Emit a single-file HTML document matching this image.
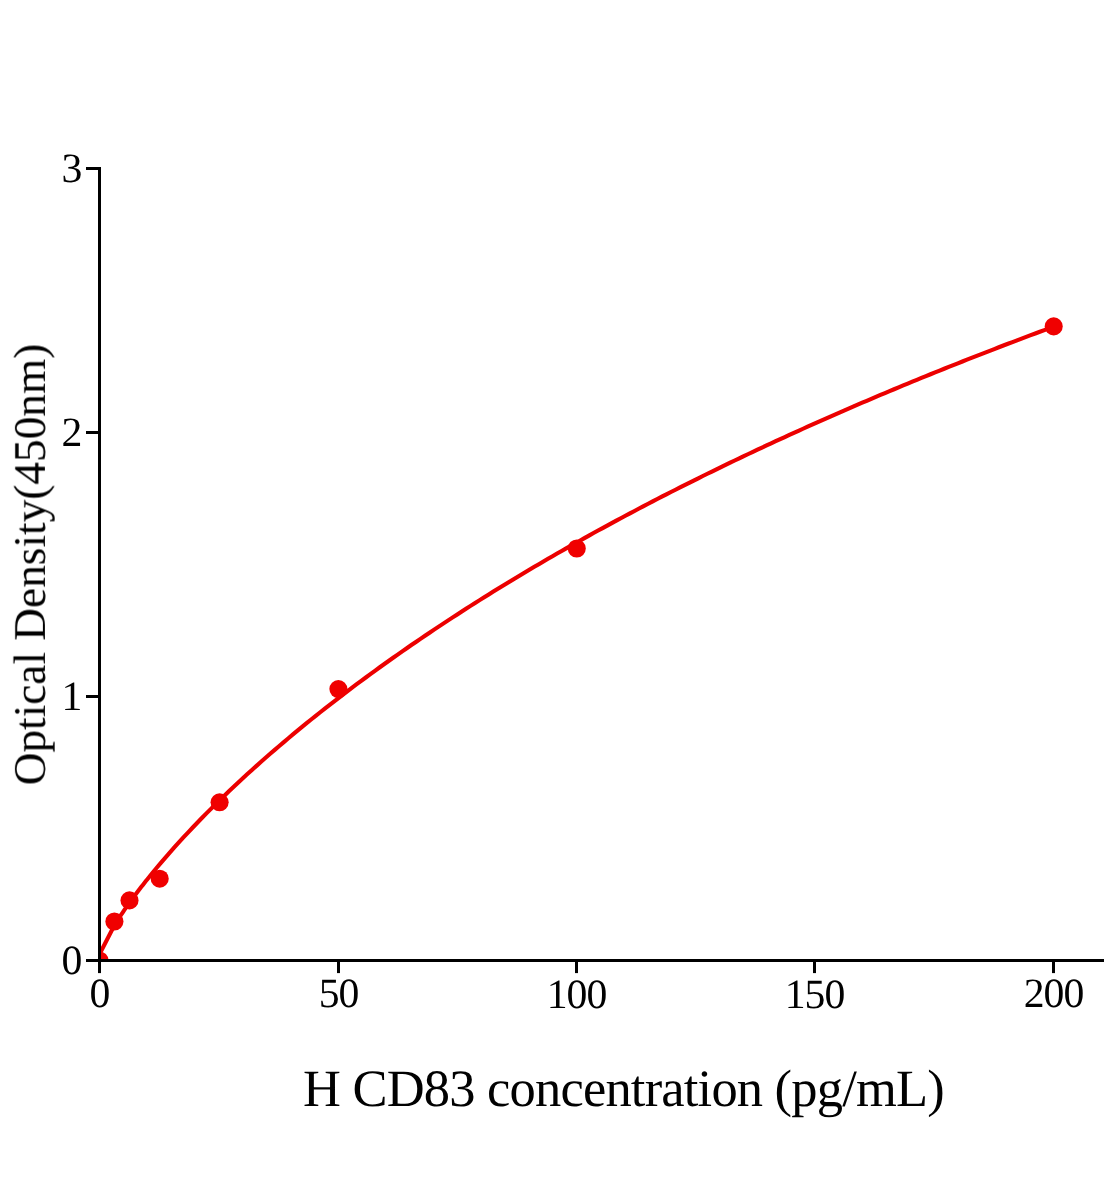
<!DOCTYPE html>
<html><head><meta charset="utf-8"><title>H CD83 standard curve</title>
<style>
html,body{margin:0;padding:0;background:#fff;}
body{width:1104px;height:1200px;overflow:hidden;font-family:"Liberation Serif",serif;}
svg{display:block;}
svg text{font-family:"Liberation Serif",serif;fill:#000;text-rendering:geometricPrecision;}
</style></head><body>
<svg width="1104" height="1200" viewBox="0 0 1104 1200">
<rect width="1104" height="1200" fill="#fff"/>
<defs><clipPath id="plot"><rect x="99.5" y="0" width="1104" height="960.5"/></clipPath></defs>
<g clip-path="url(#plot)">
<path d="M99.50,954.30 L114.41,925.22 L115.54,923.41 L116.67,921.62 L117.80,919.86 L118.93,918.12 L120.06,916.40 L121.19,914.70 L122.32,913.02 L123.45,911.35 L124.58,909.71 L125.71,908.08 L126.85,906.46 L127.98,904.86 L129.11,903.27 L130.24,901.70 L131.37,900.14 L132.50,898.59 L133.63,897.05 L134.76,895.53 L135.89,894.02 L137.02,892.51 L138.15,891.02 L139.28,889.54 L140.42,888.06 L141.55,886.60 L142.68,885.15 L143.81,883.70 L144.94,882.26 L146.07,880.84 L147.20,879.42 L151.75,873.78 L156.31,868.26 L160.86,862.85 L165.42,857.54 L169.97,852.33 L174.53,847.21 L179.08,842.16 L183.63,837.20 L188.19,832.31 L192.74,827.49 L197.30,822.73 L201.85,818.04 L206.41,813.41 L210.96,808.84 L215.51,804.32 L220.07,799.86 L224.62,795.45 L229.18,791.08 L233.73,786.77 L238.29,782.50 L242.84,778.28 L247.39,774.10 L251.95,769.96 L256.50,765.87 L261.06,761.81 L265.61,757.79 L270.17,753.81 L274.72,749.86 L279.27,745.96 L283.83,742.08 L288.38,738.24 L292.94,734.43 L297.49,730.66 L302.05,726.92 L306.60,723.20 L311.15,719.52 L315.71,715.87 L320.26,712.25 L324.82,708.65 L329.37,705.08 L333.93,701.54 L338.48,698.03 L343.03,694.54 L347.59,691.08 L352.14,687.64 L356.70,684.23 L361.25,680.84 L365.81,677.48 L370.36,674.14 L374.91,670.82 L379.47,667.52 L384.02,664.25 L388.58,661.00 L393.13,657.77 L397.68,654.56 L402.24,651.38 L406.79,648.21 L411.35,645.06 L415.90,641.94 L420.46,638.83 L425.01,635.75 L429.56,632.68 L434.12,629.63 L438.67,626.60 L443.23,623.59 L447.78,620.59 L452.34,617.62 L456.89,614.66 L461.44,611.72 L466.00,608.79 L470.55,605.88 L475.11,602.99 L479.66,600.12 L484.22,597.26 L488.77,594.42 L493.32,591.59 L497.88,588.78 L502.43,585.99 L506.99,583.21 L511.54,580.44 L516.10,577.69 L520.65,574.96 L525.20,572.24 L529.76,569.53 L534.31,566.84 L538.87,564.17 L543.42,561.50 L547.98,558.85 L552.53,556.22 L557.08,553.59 L561.64,550.98 L566.19,548.39 L570.75,545.81 L575.30,543.24 L579.86,540.68 L584.41,538.13 L588.96,535.60 L593.52,533.08 L598.07,530.57 L602.63,528.08 L607.18,525.60 L611.74,523.12 L616.29,520.66 L620.84,518.22 L625.40,515.78 L629.95,513.36 L634.51,510.94 L639.06,508.54 L643.62,506.15 L648.17,503.77 L652.72,501.40 L657.28,499.04 L661.83,496.69 L666.39,494.36 L670.94,492.03 L675.50,489.71 L680.05,487.41 L684.60,485.11 L689.16,482.83 L693.71,480.55 L698.27,478.29 L702.82,476.03 L707.38,473.78 L711.93,471.55 L716.48,469.32 L721.04,467.10 L725.59,464.90 L730.15,462.70 L734.70,460.51 L739.26,458.33 L743.81,456.16 L748.36,454.00 L752.92,451.85 L757.47,449.70 L762.03,447.57 L766.58,445.44 L771.14,443.33 L775.69,441.22 L780.24,439.12 L784.80,437.03 L789.35,434.95 L793.91,432.87 L798.46,430.81 L803.02,428.75 L807.57,426.70 L812.12,424.66 L816.68,422.62 L821.23,420.60 L825.79,418.58 L830.34,416.57 L834.89,414.57 L839.45,412.58 L844.00,410.59 L848.56,408.61 L853.11,406.64 L857.67,404.68 L862.22,402.72 L866.77,400.77 L871.33,398.83 L875.88,396.90 L880.44,394.97 L884.99,393.05 L889.55,391.14 L894.10,389.24 L898.65,387.34 L903.21,385.45 L907.76,383.56 L912.32,381.69 L916.87,379.82 L921.43,377.95 L925.98,376.10 L930.53,374.25 L935.09,372.40 L939.64,370.57 L944.20,368.74 L948.75,366.92 L953.31,365.10 L957.86,363.29 L962.41,361.49 L966.97,359.69 L971.52,357.90 L976.08,356.11 L980.63,354.33 L985.19,352.56 L989.74,350.80 L994.29,349.04 L998.85,347.28 L1003.40,345.53 L1007.96,343.79 L1012.51,342.06 L1017.07,340.33 L1021.62,338.60 L1026.17,336.89 L1030.73,335.17 L1035.28,333.47 L1039.84,331.77 L1044.39,330.07 L1048.95,328.38 L1053.50,326.70" fill="none" stroke="#ec0000" stroke-width="4.1" stroke-linejoin="round" stroke-linecap="butt"/>
<g fill="#f00000"><circle cx="99.5" cy="960.5" r="9.05"/><circle cx="114.4" cy="921.5" r="9.05"/><circle cx="129.5" cy="900.4" r="9.05"/><circle cx="159.7" cy="878.7" r="9.05"/><circle cx="219.6" cy="802.3" r="9.05"/><circle cx="338.4" cy="689.1" r="9.05"/><circle cx="576.75" cy="548.5" r="9.05"/><circle cx="1053.7" cy="326.4" r="9.05"/></g>
</g>
<g stroke="#000" stroke-width="3" fill="none" stroke-linecap="butt">
<line x1="99.5" y1="167" x2="99.5" y2="962.0"/>
<line x1="98.0" y1="960.5" x2="1104" y2="960.5"/>
<line x1="99.5" y1="960.5" x2="99.5" y2="973.1"/><line x1="338.5" y1="960.5" x2="338.5" y2="973.1"/><line x1="576.5" y1="960.5" x2="576.5" y2="973.1"/><line x1="814.5" y1="960.5" x2="814.5" y2="973.1"/><line x1="1053.5" y1="960.5" x2="1053.5" y2="973.1"/>
<line x1="86.0" y1="960.5" x2="99.5" y2="960.5"/><line x1="86.0" y1="696.5" x2="99.5" y2="696.5"/><line x1="86.0" y1="432.5" x2="99.5" y2="432.5"/><line x1="86.0" y1="168.5" x2="99.5" y2="168.5"/>
</g>
<g opacity="0.999"><g font-size="41.7" id="xticks" letter-spacing="-1.05"><text x="99.5" y="1007.2" text-anchor="middle">0</text><text x="338.5" y="1007.2" text-anchor="middle">50</text><text x="576.5" y="1008.2" text-anchor="middle">100</text><text x="814.5" y="1008.2" text-anchor="middle">150</text><text x="1053.5" y="1007.2" text-anchor="middle">200</text></g>
<g font-size="41.7" id="yticks" letter-spacing="-1.05"><text x="81.4" y="973.8" text-anchor="end">0</text><text x="81.4" y="709.8" text-anchor="end">1</text><text x="81.4" y="445.8" text-anchor="end">2</text><text x="81.4" y="181.8" text-anchor="end">3</text></g>
<text id="xlab" x="623.5" y="1106" font-size="52.5" letter-spacing="-0.8" text-anchor="middle">H CD83 concentration (pg/mL)</text>
<text id="ylab" transform="translate(44.9,564.5) rotate(-90)" font-size="45.3" text-anchor="middle">Optical Density(450nm)</text>
</g>
</svg>
</body></html>
